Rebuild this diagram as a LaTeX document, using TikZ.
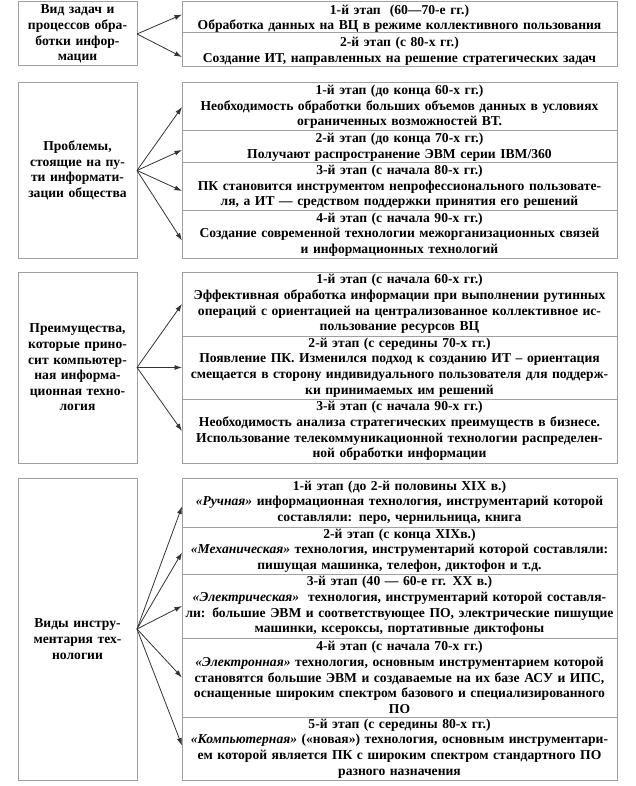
\documentclass[tikz,border=0pt]{standalone}
\usepackage{fontspec}
\setmainfont{Liberation Serif}
\usetikzlibrary{arrows.meta}
\definecolor{boxgray}{HTML}{A0A0A0}
\definecolor{arrgray}{HTML}{333333}
\tikzset{
  txt/.style={font=\bfseries\fontsize{13.6}{15.6}\selectfont},
  lbox/.style={txt, draw=boxgray, line width=1pt, text width=116pt, minimum width=119pt,
    align=center, inner sep=0pt, outer sep=0pt, anchor=north west},
  rbox/.style={txt, draw=boxgray, line width=1pt, text width=433pt, minimum width=435pt,
    align=center, inner sep=0pt, outer sep=0pt, anchor=north west},
  arr/.style={draw=arrgray, line width=0.8pt, -{Latex[length=7.5pt,width=5pt]}}
}
\newcommand{\itq}[1]{\textit{«#1»}}
\begin{document}
\begin{tikzpicture}[x=1pt,y=-1pt]
\useasboundingbox (0,0) rectangle (636,786);
% Section 1
\node[lbox, minimum height=64pt] (L1) at (18,2) {Вид задач и\\процессов обра-\\ботки инфор-\\мации};
\node[rbox, minimum height=31pt] (R1a) at (182,2) {\rule{0pt}{12pt}1-й этап\ \ (60—70-е гг.)\\Обработка данных на ВЦ в режиме коллективного пользования};
\node[rbox, minimum height=34pt] (R1b) at (182,33) {\rule{0pt}{12pt}2-й этап (с 80-х гг.)\\Создание ИТ, направленных на решение стратегических задач};
\draw[arr] (L1.east) -- ([yshift=3pt]R1a.west);
\draw[arr] (L1.east) -- ([yshift=-7pt]R1b.west);
% Section 2
\node[lbox, minimum height=175pt] (L2) at (18,83) {Проблемы,\\стоящие на пу-\\ти информати-\\зации общества};
\node[rbox, minimum height=48pt] (R2a) at (182,83) {1-й этап (до конца 60-х гг.)\\Необходимость обработки больших объемов данных в условиях\\ограниченных возможностей ВТ.};
\node[rbox, minimum height=32pt] (R2b) at (182,131) {2-й этап (до конца 70-х гг.)\\Получают распространение ЭВМ серии IBM/360};
\node[rbox, minimum height=48pt] (R2c) at (182,163) {3-й этап (с начала 80-х гг.)\\ПК становится инструментом непрофессионального пользовате-\\ля, а ИТ — средством поддержки принятия его решений};
\node[rbox, minimum height=47pt] (R2d) at (182,211) {4-й этап (с начала 90-х гг.)\\Создание современной технологии межорганизационных связей\\и информационных технологий};
\draw[arr] (L2.east) -- (R2a.west);
\draw[arr] (L2.east) -- ([yshift=-3pt]R2b.west);
\draw[arr] (L2.east) -- ([yshift=-4pt]R2c.west);
\draw[arr] (L2.east) -- ([yshift=-6pt]R2d.west);
% Section 3
\node[lbox, minimum height=191pt] (L3) at (18,272) {Преимущества,\\которые прино-\\сит компьютер-\\ная информа-\\ционная техно-\\логия};
\node[rbox, minimum height=64pt] (R3a) at (182,272) {1-й этап (с начала 60-х гг.)\\Эффективная обработка информации при выполнении рутинных\\операций с ориентацией на централизованное коллективное ис-\\пользование ресурсов ВЦ};
\node[rbox, minimum height=63pt] (R3b) at (182,336) {2-й этап (с середины 70-х гг.)\\Появление ПК. Изменился подход к созданию ИТ – ориентация\\смещается в сторону индивидуального пользователя для поддерж-\\ки принимаемых им решений};
\node[rbox, minimum height=64pt] (R3c) at (182,399) {3-й этап (с начала 90-х гг.)\\Необходимость анализа стратегических преимуществ в бизнесе.\\Использование телекоммуникационной технологии распределен-\\ной обработки информации};
\draw[arr] (L3.east) -- (R3a.west);
\draw[arr] (L3.east) -- (R3b.west);
\draw[arr] (L3.east) -- (R3c.west);
% Section 4
\node[lbox, minimum height=302pt] (L4) at (18,478) {\rule{0pt}{29pt}Виды инстру-\\ментария тех-\\нологии};
\node[rbox, minimum height=49pt] (R4a) at (182,478) {1-й этап (до 2-й половины XIX в.)\\\itq{Ручная} информационная технология, инструментарий которой\\составляли: перо, чернильница, книга};
\node[rbox, minimum height=47pt] (R4b) at (182,527) {2-й этап (с конца XIXв.)\\\itq{Механическая} технология, инструментарий которой составляли:\\пишущая машинка, телефон, диктофон и т.д.};
\node[rbox, minimum height=64pt] (R4c) at (182,574) {3-й этап (40 — 60-е гг. XX в.)\\\itq{Электрическая}\ \ технология, инструментарий которой составля-\\ли: большие ЭВМ и соответствующее ПО, электрические пишущие\\машинки, ксероксы, портативные диктофоны};
\node[rbox, minimum height=79pt] (R4d) at (182,638) {4-й этап (с начала 70-х гг.)\\\itq{Электронная} технология, основным инструментарием которой\\становятся большие ЭВМ и создаваемые на их базе АСУ и ИПС,\\оснащенные широким спектром базового и специализированного\\ПО};
\node[rbox, minimum height=63pt] (R4e) at (182,717) {5-й этап (с середины 80-х гг.)\\\itq{Компьютерная} («новая») технология, основным инструментари-\\ем которой является ПК с широким спектром стандартного ПО\\разного назначения};
\draw[arr] (L4.east) -- ([yshift=-4pt]R4a.west);
\draw[arr] (L4.east) -- ([yshift=-2pt]R4b.west);
\draw[arr] (L4.east) -- (R4c.west);
\draw[arr] (L4.east) -- (R4d.west);
\draw[arr] (L4.east) -- ([yshift=3pt]R4e.west);
\end{tikzpicture}
\end{document}
